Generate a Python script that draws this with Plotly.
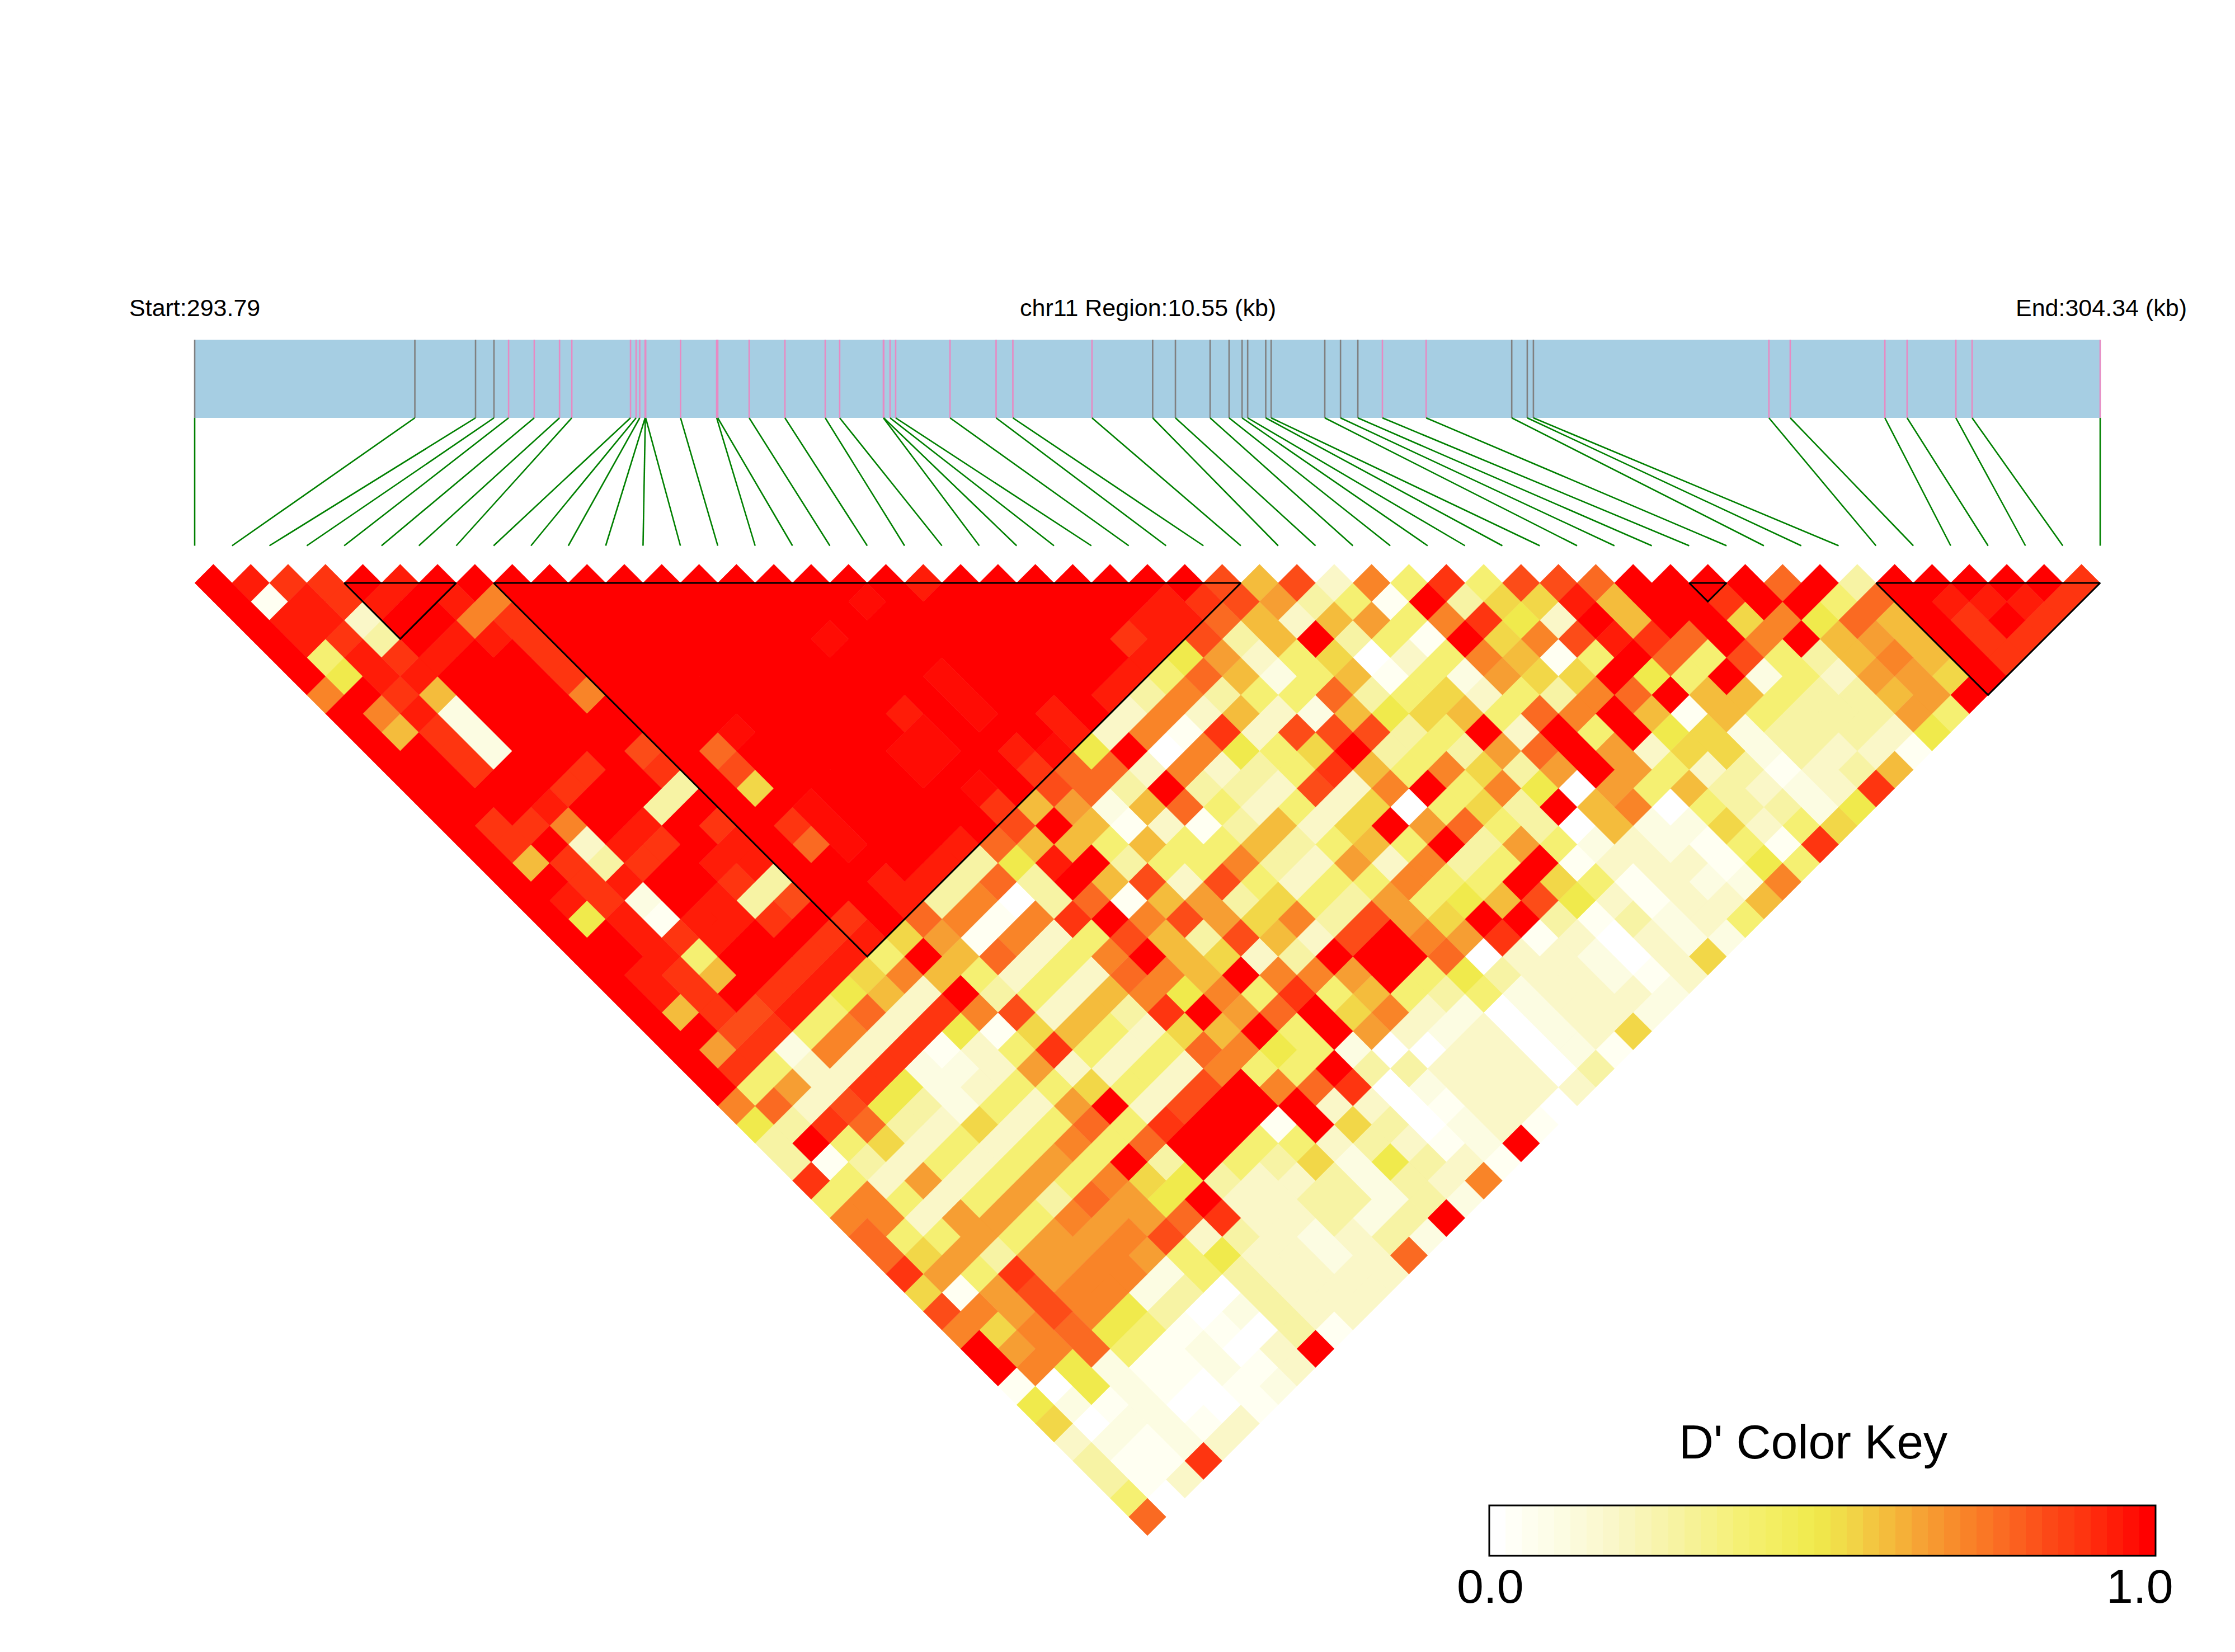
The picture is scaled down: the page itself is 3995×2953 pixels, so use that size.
import plotly.graph_objects as go

W, H = 3995, 2953
START_KB, END_KB = 293.79, 304.34

# Physical SNP positions (kb)
snp_kb = [293.790, 295.009, 295.345, 295.447, 295.528, 295.670, 295.810, 295.878, 296.203, 296.234,
          296.254, 296.284, 296.285, 296.287, 296.480, 296.680, 296.686, 296.860, 297.058, 297.281,
          297.361, 297.603, 297.605, 297.640, 297.671, 297.972, 298.227, 298.320, 298.758, 299.094,
          299.220, 299.412, 299.517, 299.589, 299.620, 299.720, 299.750, 300.047, 300.134, 300.230,
          300.366, 300.608, 301.082, 301.168, 301.202, 302.506, 302.624, 303.148, 303.271, 303.541,
          303.631, 304.340]
# 0 = grey tick, 1 = pink tick
snp_kind = [0, 0, 0, 0] + [1] * 25 + [0] * 11 + [1, 1] + [0, 0, 0] + [1] * 7

# LD blocks (first SNP index, last SNP index)
blocks = [(4, 7), (8, 28), (40, 41), (45, 51)]

# D', coded per character, one string per SNP distance
CODES = "0123456789abcdeEf"
LEVELS = [0, .04, .10, .18, .27, .38, .49, .54, .60, .66, .72, .78, .84, .90, .95, .98, 1.0]

d01 = "feddfe" + "f" * 13 + "e" + "f" * 7 + "c8c3a5d5ccb" + "ffff" + "bf4" + "fffff" + "d"
d02 = "f1edefea" + "f" * 9 + "E" + "f" * 7 + "edc9451f477e8ffdff5bfeeed"
d03 = "fee3ffad" + "f" * 16 + "eeb83895ad63f8ff7a6b8fdfd"
d04 = "fed4feed" + "f" * 7 + "E" + "f" * 7 + "dec48f451f7acedbfaf898fdd"
d05 = "f5edeffd" + "f" * 15 + "e69357035a815fb5c548a8fd"
d06 = "f6eefffd" + "f" * 9 + "E" + "f" * 4 + "e5b8258152977f65f253997f"
d07 = "afd8fffa" + "f" * 9 + "E" + "f" * 3 + "e4a455b457354abf8854489f"
d08 = "fae2" + "f" * 11 + "efEfef" + "3a383286785baf818544495"
d09 = "f8d2" + "f" * 6 + "E" + "f" * 4 + "E" + "f" * 3 + "e3a1d3ccc45f3f5f67244436"
d10 = "ffd2fffcfb" + "f" * 4 + "EEfeE" + "6f0a657f4549bf937724331"
d11 = "ffdffdfdfc" + "f" * 4 + "Effd" + "bb3a345d85a749f95341348"
d12 = "ffffdff4f7" + "f" * 5 + "Efcb4f443c3af5a609584323d"
d13 = "fffeff4fff" + "E" + "f" * 4 + "d8928b535370574f8a054426"
d14 = "fddafefdfdE" + "f" * 4 + "cf81314837f9b5408227357"
d15 = "fdf3edfefb" + "Effeb88585" + "584585f495" + "232151d"
d16 = "f8d4dfeeff" + "ffe46ef455" + "a4393a45f1" + "333165"
d17 = "ffdeffd4ff" + "ee4b4f8c3c" + "5355a55f75" + "1322a"
d18 = "fed2fe4cff" + "e4a04b1894" + "7549568c63" + "1338"
d19 = "f6e1eedfdf" + "ba1adfac97" + "a4c97ff414" + "235"
d20 = "ffedeffde7" + "91a35c84c8" + "3cfa9d1303" + "22"
d21 = "ffe5ffde5f" + "8b35af8734" + "fffb033203" + "7"
d22 = "fed8fde7a8" + "5353ba8faa" + "9f56433213"
d23 = "fedfde683f" + "4538a6a5d5" + "854523332"
d24 = "f8dce5b3da" + "c384df9bf7" + "a3202332"
d25 = "ffcd5a3d61" + "785378f5f9" + "3230237"
d26 = "f9d2a3d135" + "d535ba6520" + "033021"
d27 = "fd533d2239" + "3353a55f44" + "33304"
d28 = "f593d62355" + "753cfabd02" + "3333"
d29 = "ab3c642539" + "f3cfff3301" + "330"
d30 = "64db43735b" + "5dff1f7402" + "31"
d31 = "4f573535a5" + "bff5534312" + "f"
d32 = "414353595f" + "4f54726431"
d33 = "d5393595a7" + "64334243a"
d34 = "5a53594b96" + "f3344242"
d35 = "aa3995a99b" + "d33424f"
d36 = "b559599ac3" + "432342"
d37 = "b79499a956" + "3323b"
d38 = "d95d9aa254" + "3333"
d39 = "719caa2404" + "333"
d40 = "ca9ca64024" + "33"
d41 = "a7ab651104" + "1"
d42 = "f9ab51203f"
d43 = "fa6211213"
d44 = "10621012"
d45 = "6212001"
d46 = "702213"
d47 = "32123"
d48 = "411d"
d49 = "413"
d50 = "50"
d51 = "b"
rows = [d01, d02, d03, d04, d05, d06, d07, d08, d09, d10, d11, d12, d13, d14, d15, d16, d17,
        d18, d19, d20, d21, d22, d23, d24, d25, d26, d27, d28, d29, d30, d31, d32, d33, d34,
        d35, d36, d37, d38, d39, d40, d41, d42, d43, d44, d45, d46, d47, d48, d49, d50, d51]
for k, r in enumerate(rows):
    assert len(r) == 51 - k, (k + 1, len(r))

# Colour key
key_values = [i / 40 for i in range(41)]
stops = [(0, "#FFFFFF"), (.04, "#FFFFF2"), (.10, "#FCFCE2"), (.18, "#FAF7C8"), (.27, "#F7F3A4"),
         (.38, "#F5F072"), (.49, "#F0EA4C"), (.54, "#F2D748"), (.60, "#F4BC3C"), (.66, "#F69E33"),
         (.72, "#F98428"), (.78, "#FA6A22"), (.84, "#FC4C18"), (.90, "#FE3510"), (.95, "#FF1C08"),
         (.98, "#FF0C04"), (1.0, "#FF0000")]

# Layout geometry (pixels of the 3995x2953 page)
X0, X1 = 348.0, 3754.0
STEP = (X1 - X0) / 51
Y0 = 1042.0
HALF = 33.39
BAR_TOP, BAR_BOT, LINK_END = 607.5, 747.0, 975.5
ax_y = lambda p: (p - Y0) / HALF      # page y -> row axis


def kb_to_x(kb):
    return (kb - START_KB) / (END_KB - START_KB) * 51


color_of = dict(stops)
fig = go.Figure()

# one polygon trace per D' level
polys = {c: ([], []) for c in CODES}
for k, row in enumerate(rows):
    d = k + 1
    for i, c in enumerate(row):
        u = i + d / 2
        xs, ys = polys[c]
        xs += [u, u + .5, u, u - .5, u, None]
        ys += [k - 1, k, k + 1, k, k - 1, None]
for c, lv in zip(CODES, LEVELS):
    xs, ys = polys[c]
    if not xs:
        continue
    col = color_of[lv]
    fig.add_trace(go.Scatter(x=xs, y=ys, mode="lines", fill="toself", fillcolor=col,
                             line=dict(color=col, width=0.5), hoverinfo="skip", showlegend=False))

# SNP ticks inside the gene bar and links down to the matrix
for kind, col in ((0, "#808080"), (1, "#E78AC3")):
    xs, ys = [], []
    for kb, kd in zip(snp_kb, snp_kind):
        if kd == kind:
            xs += [kb_to_x(kb), kb_to_x(kb), None]
            ys += [ax_y(BAR_TOP), ax_y(BAR_BOT), None]
    fig.add_trace(go.Scatter(x=xs, y=ys, mode="lines", line=dict(color=col, width=2.6),
                             hoverinfo="skip", showlegend=False))
xs, ys = [], []
for i, kb in enumerate(snp_kb):
    xs += [kb_to_x(kb), i, None]
    ys += [ax_y(BAR_BOT), ax_y(LINK_END), None]
fig.add_trace(go.Scatter(x=xs, y=ys, mode="lines", line=dict(color="#008000", width=2.6),
                         hoverinfo="skip", showlegend=False))

# LD block outlines
xs, ys = [], []
for a, b in blocks:
    xs += [a, b, (a + b) / 2, a, None]
    ys += [0, 0, b - a, 0, None]
fig.add_trace(go.Scatter(x=xs, y=ys, mode="lines", line=dict(color="#000000", width=3),
                         hoverinfo="skip", showlegend=False))

# Colour key
KX0, KX1, KY0, KY1 = 2662.0, 3853.0, 2691.0, 2781.0
fig.add_trace(go.Heatmap(z=[key_values], x=key_values, y=[0], xaxis="x2", yaxis="y2",
                         zmin=0, zmax=1, showscale=False, hoverinfo="skip",
                         colorscale=[[v, c] for v, c in stops]))

px = lambda p: p / W
py = lambda p: 1 - p / H
shapes = [
    dict(type="rect", xref="x", yref="y", x0=0, x1=51, y0=ax_y(BAR_TOP), y1=ax_y(BAR_BOT),
         fillcolor="#A6CEE3", line=dict(width=0), layer="below"),
    dict(type="rect", xref="paper", yref="paper", x0=px(KX0), x1=px(KX1), y0=py(KY1), y1=py(KY0),
         fillcolor="rgba(0,0,0,0)", line=dict(color="#000000", width=3)),
]
FONT = "Liberation Sans, Arial, sans-serif"


def label(text, x, y, size, anchor):
    return dict(text=text, xref="paper", yref="paper", x=px(x), y=py(y), xanchor=anchor,
                yanchor="middle", showarrow=False, font=dict(family=FONT, size=size, color="#000000"))


annotations = [
    label("Start:293.79", 229, 550, 43, "left"),
    label("chr11 Region:10.55 (kb)", 2052, 550, 43, "center"),
    label("End:304.34 (kb)", 3911, 550, 43, "right"),
    label("D' Color Key", 3241, 2577, 86, "center"),
    label("0.0", 2664, 2835, 86, "center"),
    label("1.0", 3825, 2835, 86, "center"),
]

fig.update_layout(
    width=W, height=H, margin=dict(l=0, r=0, t=0, b=0), showlegend=False,
    paper_bgcolor="#FFFFFF", plot_bgcolor="#FFFFFF",
    xaxis=dict(visible=False, range=[-X0 / STEP, (W - X0) / STEP], domain=[0, 1], fixedrange=True),
    yaxis=dict(visible=False, range=[(H - Y0) / HALF, -Y0 / HALF], domain=[0, 1], fixedrange=True),
    xaxis2=dict(visible=False, domain=[px(KX0), px(KX1)], anchor="y2", fixedrange=True,
                range=[-1 / 80, 1 + 1 / 80]),
    yaxis2=dict(visible=False, domain=[py(KY1), py(KY0)], anchor="x2", fixedrange=True,
                range=[-.5, .5]),
    shapes=shapes, annotations=annotations,
)
fig.write_html("out.html", config={"displayModeBar": False},
               post_script="document.body.style.margin='0';")
